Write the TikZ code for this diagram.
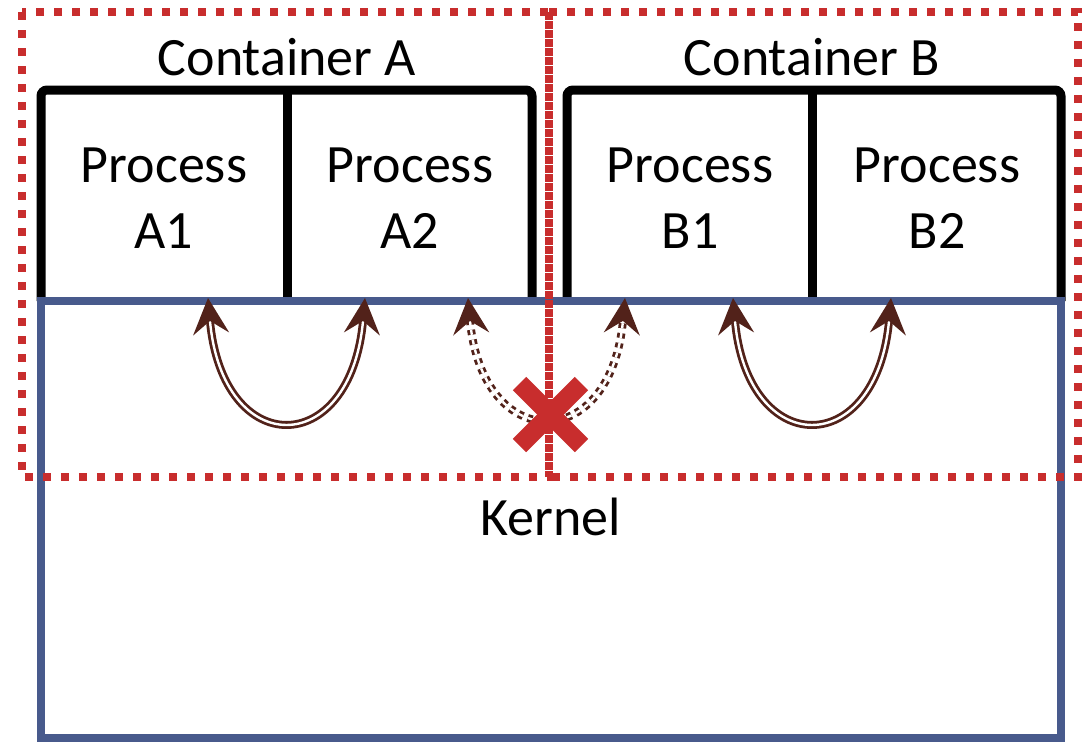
\documentclass[tikz,border=0pt]{standalone}
\usepackage{fontspec}
\setmainfont{Carlito}
\usetikzlibrary{arrows.meta}
\definecolor{boxred}{RGB}{200,45,45}
\definecolor{kernelblue}{RGB}{72,90,140}
\definecolor{ipcbrown}{RGB}{82,34,26}
\tikzset{ipctip/.tip={Stealth[length=18pt,width=18pt,inset=6.5pt]}}
\begin{document}
\begin{tikzpicture}[x=0.5pt,y=-0.5pt,
  lbl/.style={font=\fontsize{27}{33}\selectfont, inner sep=0pt, align=center},
  procbox/.style={draw=black, line width=4.5pt},
  kernelbox/.style={draw=kernelblue, line width=4pt},
  isolation/.style={draw=boxred, line width=4pt, dash pattern=on 4pt off 5pt},
  ipc/.style={draw=ipcbrown, line width=1.4pt, double=white, double distance=1.2pt,
              {ipctip}-{ipctip}},
  blocked/.style={ipc, dash pattern=on 2.5pt off 2.5pt},
  cross/.style={draw=boxred, line width=9.5pt}]
\useasboundingbox (0,0) rectangle (1089,741);

% process boxes of the two containers
\draw[procbox, rounded corners=3pt] (41,301) -- (41,90) -- (532,90) -- (532,301);
\draw[procbox] (287,90) -- (287,301);
\draw[procbox, rounded corners=3pt] (567,301) -- (567,90) -- (1061,90) -- (1061,301);
\draw[procbox] (812,90) -- (812,301);

% labels
\node[lbl, anchor=base] (contA) at (287,75) {Container A};
\node[lbl, anchor=base] (contB) at (812,75) {Container B};
\node[lbl] (pA1) at (164,198) {Process\\A1};
\node[lbl] (pA2) at (410,198) {Process\\A2};
\node[lbl] (pB1) at (690,198) {Process\\B1};
\node[lbl] (pB2) at (937,198) {Process\\B2};

% kernel
\draw[kernelbox] (41,301) rectangle (1061,738);
\node[lbl, anchor=base] (kernel) at (551,535) {Kernel};

% attachment points of the processes on the kernel
\coordinate (a1) at (208,298);
\coordinate (a2) at (365,298);
\coordinate (a2x) at (468,298);
\coordinate (b1x) at (625,298);
\coordinate (b1) at (733,298);
\coordinate (b2) at (891,298);

% communication through the kernel
\draw[ipc] (a1) .. controls (222,460) and (351,460) .. (a2);
\draw[ipc] (b1) .. controls (747,460) and (877,460) .. (b2);
\draw[blocked] (a2x) .. controls (482,455) and (611,455) .. (b1x);

% container boundaries
\draw[isolation] (22,12) rectangle (549,477);
\draw[isolation] (549,12) rectangle (1078,477);

% blocked cross-container path
\coordinate (xc) at (550.5,414.5);
\draw[cross] ([shift={(-31,-31)}]xc) -- ([shift={(31,31)}]xc);
\draw[cross] ([shift={(31,-31)}]xc) -- ([shift={(-31,31)}]xc);
\end{tikzpicture}
\end{document}
